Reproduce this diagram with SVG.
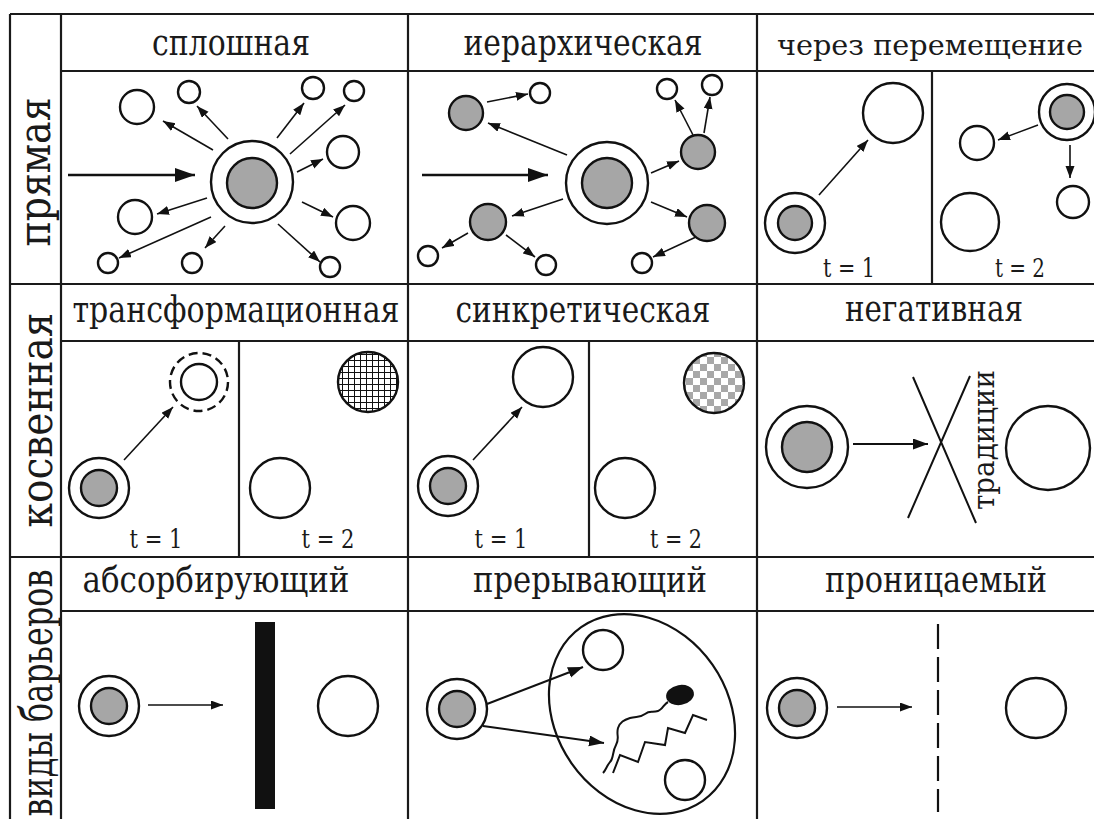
<svg xmlns="http://www.w3.org/2000/svg" width="1094" height="819" viewBox="0 0 1094 819">
<style>
.frame{stroke:#1a1a1a;stroke-width:2.2;fill:none}
.c{fill:#fff;stroke:#111;stroke-width:2.4}
.g{fill:#a6a6a6;stroke:#111;stroke-width:2.4}
.a{stroke:#111;stroke-width:1.6;fill:none;marker-end:url(#ah)}
.m{stroke:#111;stroke-width:2;fill:none;marker-end:url(#am)}
.A{stroke:#111;stroke-width:2.6;fill:none;marker-end:url(#AH)}
.t{font-family:"DejaVu Serif","Liberation Serif","Noto Serif",serif;fill:#1a1a1a}
.h{font-size:35px;text-anchor:middle}
.v{font-size:44px;text-anchor:middle}
.s{font-size:26px;text-anchor:middle}
.ln{stroke:#111;stroke-width:2;fill:none}
</style>
<defs>
<marker id="ah" markerUnits="userSpaceOnUse" markerWidth="13" markerHeight="10" refX="12" refY="4.5" orient="auto"><path d="M0,0 L12,4.5 L0,9 z" fill="#111"/></marker>
<marker id="am" markerUnits="userSpaceOnUse" markerWidth="16" markerHeight="12" refX="15" refY="5.5" orient="auto"><path d="M0,0 L15,5.5 L0,11 z" fill="#111"/></marker>
<marker id="AH" markerUnits="userSpaceOnUse" markerWidth="21" markerHeight="15" refX="20" refY="7" orient="auto"><path d="M0,0 L20,7 L0,14 z" fill="#111"/></marker>
<pattern id="hatch" patternUnits="userSpaceOnUse" width="6" height="6"><rect width="6" height="6" fill="#fff"/><path d="M0,0.5 H6 M0.5,0 V6" stroke="#111" stroke-width="1"/></pattern>
<pattern id="check" patternUnits="userSpaceOnUse" width="14" height="14"><rect width="14" height="14" fill="#fff"/><rect width="7" height="7" fill="#a8a8a8"/><rect x="7" y="7" width="7" height="7" fill="#a8a8a8"/></pattern>
</defs>
<rect width="1094" height="819" fill="#fff"/>

<g id="frame" class="frame">
<path d="M10,14 H1094 M10,14 V819 M61,14 V819 M408,14 V819 M757,14 V819"/>
<path d="M10,284 H1094 M10,557 H1094 M61,71 H1094 M61,341 H1094 M61,611 H1094"/>
<path d="M932,71 V284 M239,341 V557 M589,341 V557"/>
</g>

<g id="labels" class="t">
<text class="v" transform="translate(50,172) rotate(-90)" textLength="149" lengthAdjust="spacingAndGlyphs">прямая</text>
<text class="v" transform="translate(52,420) rotate(-90)" textLength="215" lengthAdjust="spacingAndGlyphs">косвенная</text>
<text class="v" transform="translate(52,693) rotate(-90)" textLength="247" lengthAdjust="spacingAndGlyphs">виды барьеров</text>
<text class="h" x="231" y="55" textLength="158" lengthAdjust="spacingAndGlyphs">сплошная</text>
<text class="h" x="583" y="55" textLength="239" lengthAdjust="spacingAndGlyphs">иерархическая</text>
<text x="777" y="55" style="font-size:28px" textLength="306" lengthAdjust="spacingAndGlyphs">через перемещение</text>
<text class="h" x="236" y="322" textLength="327" lengthAdjust="spacingAndGlyphs">трансформационная</text>
<text class="h" x="583" y="322" textLength="255" lengthAdjust="spacingAndGlyphs">синкретическая</text>
<text class="h" x="934" y="321" textLength="178" lengthAdjust="spacingAndGlyphs">негативная</text>
<text class="h" x="216" y="592" textLength="267" lengthAdjust="spacingAndGlyphs">абсорбирующий</text>
<text class="h" x="590" y="592" textLength="234" lengthAdjust="spacingAndGlyphs">прерывающий</text>
<text class="h" x="936" y="592" textLength="222" lengthAdjust="spacingAndGlyphs">проницаемый</text>
<text class="s" x="849" y="277" textLength="52" lengthAdjust="spacingAndGlyphs">t = 1</text>
<text class="s" x="1020" y="277" textLength="50" lengthAdjust="spacingAndGlyphs">t = 2</text>
<text class="s" x="156" y="548" textLength="53" lengthAdjust="spacingAndGlyphs">t = 1</text>
<text class="s" x="328" y="548" textLength="53" lengthAdjust="spacingAndGlyphs">t = 2</text>
<text class="s" x="501" y="548" textLength="53" lengthAdjust="spacingAndGlyphs">t = 1</text>
<text class="s" x="676" y="548" textLength="52" lengthAdjust="spacingAndGlyphs">t = 2</text>
<text transform="translate(994,440) rotate(-90)" style="font-size:30px;text-anchor:middle" textLength="140" lengthAdjust="spacingAndGlyphs">традиции</text>
</g>

<g id="connectors">
<line class="A" x1="68" y1="175" x2="195" y2="175"/>
<line class="a" x1="213" y1="150" x2="163" y2="121"/>
<line class="a" x1="228" y1="139" x2="197" y2="106"/>
<line class="a" x1="277" y1="138" x2="304" y2="103"/>
<line class="a" x1="290" y1="154" x2="345" y2="105"/>
<line class="a" x1="297" y1="172" x2="323" y2="159"/>
<line class="a" x1="302" y1="202" x2="333" y2="217"/>
<line class="a" x1="207" y1="198" x2="157" y2="214"/>
<line class="a" x1="211" y1="217" x2="119" y2="258"/>
<line class="a" x1="225" y1="226" x2="205" y2="248"/>
<line class="a" x1="278" y1="224" x2="320" y2="262"/>

<line class="A" x1="422" y1="175" x2="548" y2="175"/>
<line class="a" x1="487" y1="102" x2="528" y2="94"/>
<line class="a" x1="567" y1="155" x2="488" y2="123"/>
<line class="a" x1="693" y1="135" x2="675" y2="100"/>
<line class="a" x1="704" y1="133" x2="710" y2="97"/>
<line class="a" x1="651" y1="173" x2="679" y2="161"/>
<line class="a" x1="563" y1="199" x2="512" y2="216"/>
<line class="a" x1="651" y1="202" x2="687" y2="217"/>
<line class="a" x1="468" y1="233" x2="442" y2="248"/>
<line class="a" x1="506" y1="235" x2="535" y2="257"/>
<line class="a" x1="696" y1="237" x2="653" y2="257"/>

<line class="a" x1="819" y1="195" x2="868" y2="140"/>
<line class="a" x1="1038" y1="125" x2="998" y2="140"/>
<line class="a" x1="1070" y1="145" x2="1070" y2="178"/>

<line class="a" x1="124" y1="460" x2="173" y2="407"/>
<line class="a" x1="473" y1="460" x2="522" y2="407"/>
<line class="m" x1="853" y1="444" x2="928" y2="444"/>

<line class="a" x1="148" y1="705" x2="223" y2="705"/>
<line class="m" x1="487" y1="704" x2="583" y2="667"/>
<line class="m" x1="483" y1="726" x2="604" y2="743"/>
<line class="a" x1="837" y1="707" x2="912" y2="707"/>
</g>

<g id="panel-sploshnaya">
<g id="src1"><circle class="c" cx="252" cy="182" r="41"/><circle class="g" cx="252" cy="183" r="25"/></g>
<circle class="c" cx="137" cy="107" r="17"/>
<circle class="c" cx="189" cy="92" r="11"/>
<circle class="c" cx="313" cy="88" r="11"/>
<circle class="c" cx="354" cy="91" r="10"/>
<circle class="c" cx="343" cy="152" r="16"/>
<circle class="c" cx="353" cy="223" r="17"/>
<circle class="c" cx="135" cy="217" r="17"/>
<circle class="c" cx="108" cy="263" r="10"/>
<circle class="c" cx="192" cy="263" r="10"/>
<circle class="c" cx="330" cy="267" r="10"/>
</g>

<g id="panel-ierarh">
<g id="src2"><circle class="c" cx="607" cy="183" r="41"/><circle class="g" cx="607" cy="183" r="25"/></g>
<circle class="g" cx="466" cy="113" r="17"/>
<circle class="g" cx="698" cy="152" r="17"/>
<circle class="g" cx="488" cy="222" r="18"/>
<circle class="g" cx="707" cy="223" r="18"/>
<circle class="c" cx="540" cy="93" r="10"/>
<circle class="c" cx="667" cy="89" r="10"/>
<circle class="c" cx="712" cy="85" r="10"/>
<circle class="c" cx="428" cy="256" r="10"/>
<circle class="c" cx="546" cy="265" r="10"/>
<circle class="c" cx="642" cy="263" r="10"/>
</g>

<g id="panel-peremeshenie">
<circle class="c" cx="893" cy="113" r="30"/>
<g id="src3a"><circle class="c" cx="795" cy="223" r="30"/><circle class="g" cx="795" cy="223" r="17"/></g>
<g id="src3b"><circle class="c" cx="1067" cy="112" r="28"/><circle class="g" cx="1067" cy="112" r="17"/></g>
<circle class="c" cx="977" cy="143" r="17"/>
<circle class="c" cx="1073" cy="202" r="16"/>
<circle class="c" cx="970" cy="222" r="29"/>
</g>

<g id="panel-transform">
<g id="src4"><circle class="c" cx="99" cy="488" r="30"/><circle class="g" cx="99" cy="488" r="18"/></g>
<g id="dashed"><circle class="c" cx="199" cy="382" r="29" stroke-dasharray="9 5"/><circle class="c" cx="199" cy="382" r="18"/></g>
<circle cx="368" cy="382" r="30" fill="url(#hatch)" stroke="#111" stroke-width="2.4"/>
<circle class="c" cx="280" cy="488" r="30"/>
</g>

<g id="panel-sinkret">
<circle class="c" cx="543" cy="377" r="30"/>
<g id="src5"><circle class="c" cx="448" cy="486" r="30"/><circle class="g" cx="448" cy="486" r="18"/></g>
<circle cx="714" cy="383" r="30" fill="url(#check)" stroke="#111" stroke-width="2.4"/>
<circle class="c" cx="625" cy="488" r="30"/>
</g>

<g id="panel-negativ">
<g id="src6"><circle class="c" cx="807" cy="447" r="41"/><circle class="g" cx="807" cy="447" r="25"/></g>
<path class="ln" d="M913,377 L976,523 M970,376 L908,518"/>
<circle class="c" cx="1048" cy="448" r="42"/>
</g>

<g id="panel-absorb">
<g id="src7"><circle class="c" cx="109" cy="706" r="30"/><circle class="g" cx="109" cy="706" r="18"/></g>
<rect x="255" y="622" width="20" height="187" fill="#111"/>
<circle class="c" cx="348" cy="706" r="30"/>
</g>

<g id="panel-preryv">
<g id="src8"><circle class="c" cx="457" cy="709" r="30"/><circle class="g" cx="457" cy="709" r="18"/></g>
<ellipse cx="642" cy="714" rx="106" ry="86" transform="rotate(55 642 714)" fill="none" stroke="#111" stroke-width="2.2"/>
<circle class="c" cx="603" cy="650" r="20"/>
<circle class="c" cx="685" cy="780" r="20"/>
<ellipse cx="680" cy="695" rx="14" ry="10" transform="rotate(-10 680 695)" fill="#111"/>
<path class="ln" stroke-width="1.6" d="M668,702 C664,704 662,710 658,711 C652,713 650,710 645,714 C640,718 636,716 630,718 C624,720 620,722 618,728 C616,735 620,738 616,745 C612,752 614,758 610,762 C606,767 606,770 603,773"/>
<polyline class="ln" points="613,773 620,755 638,762 645,742 665,745 668,728 685,733 693,715 707,720"/>
</g>

<g id="panel-pronic">
<g id="src9"><circle class="c" cx="797" cy="708" r="30"/><circle class="g" cx="797" cy="708" r="18"/></g>
<line x1="938" y1="624" x2="938" y2="812" stroke="#111" stroke-width="2.2" stroke-dasharray="25 8"/>
<circle class="c" cx="1036" cy="708" r="30"/>
</g>
</svg>
